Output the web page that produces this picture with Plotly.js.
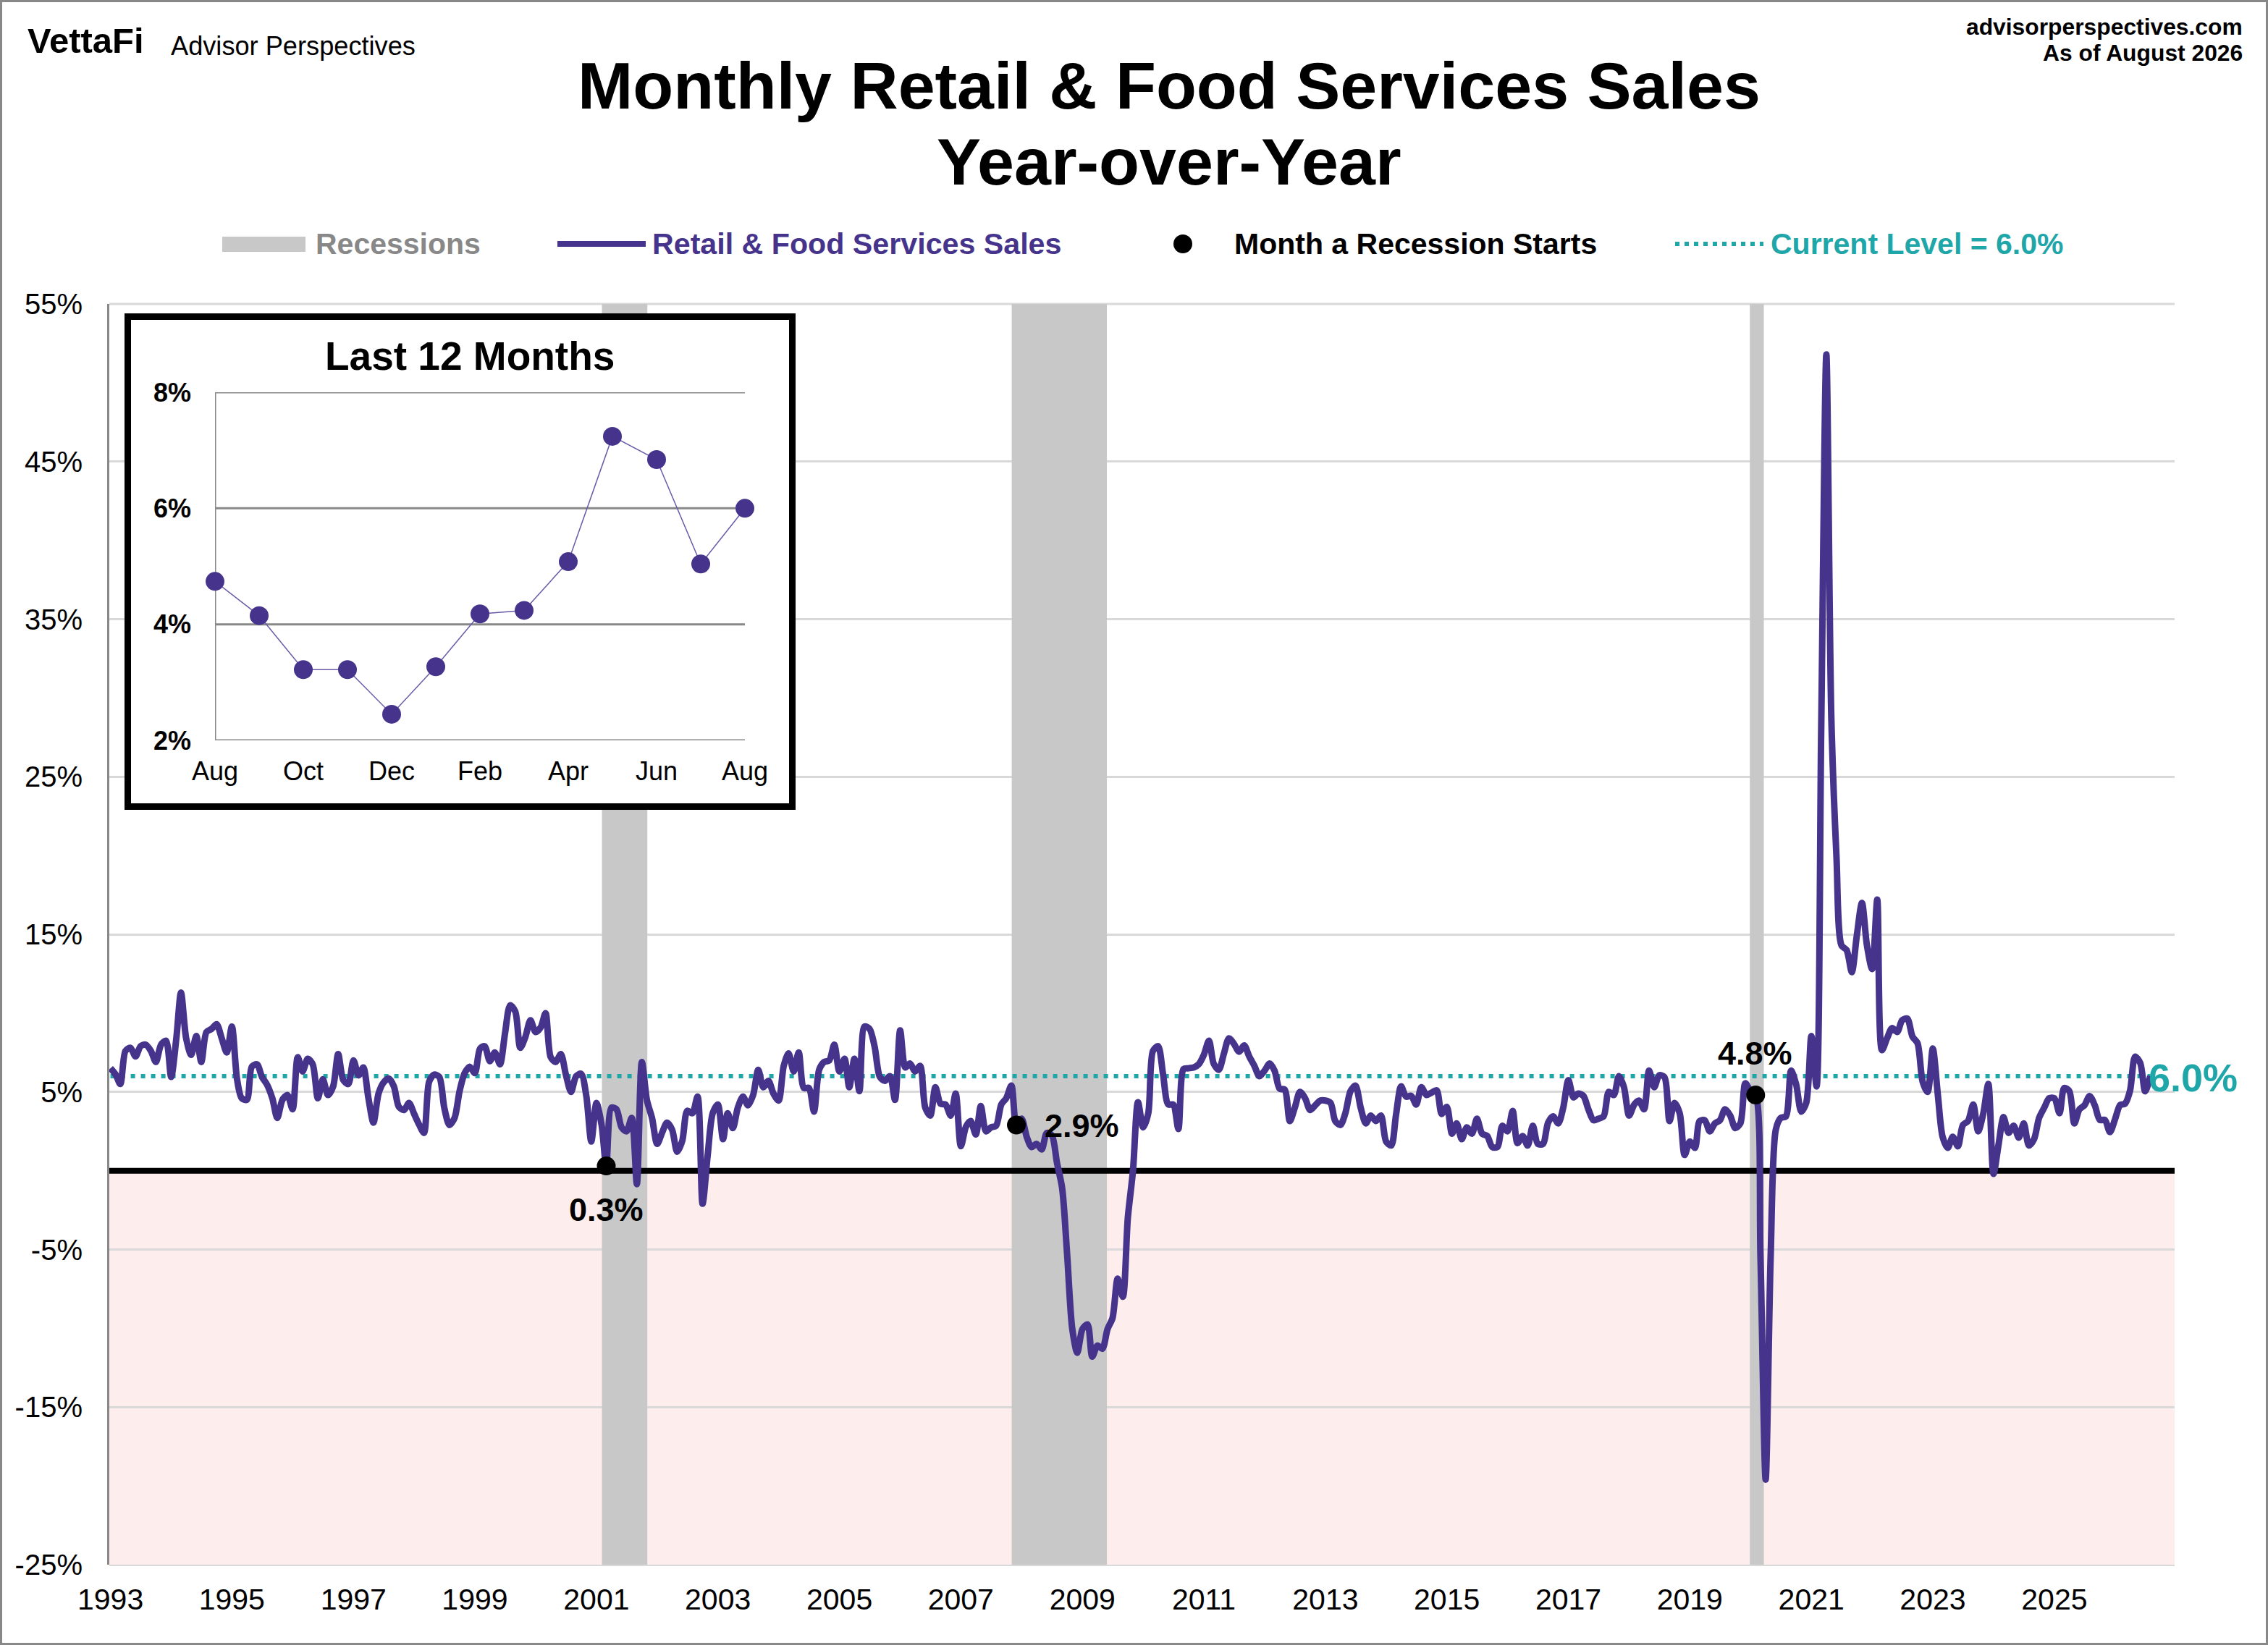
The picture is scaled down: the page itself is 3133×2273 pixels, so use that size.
<!DOCTYPE html>
<html>
<head>
<meta charset="utf-8">
<script src="https://cdn.plot.ly/plotly-3.0.1.min.js"></script>
<style>html,body{margin:0;padding:0;background:#fff;overflow:hidden}#chart{width:3133px;height:2273px}</style>
</head>
<body>
<div id="chart"></div>
<script>
// ---------- data ----------
const yoy1993_2000 = [
  6.5,6.1,5.5,7.6,7.8,7.25,7.9,8.0,7.6,6.9,8,8.25,
  5.95,8.4,11.3,8.4,7.35,8.55,6.9,8.8,9,9.3,8.4,7.5,
  9.15,5.8,4.6,4.5,6.6,6.75,5.95,5.45,4.6,3.35,4.5,4.8,
  3.9,7.2,6.3,7.1,6.75,4.6,5.8,4.8,5.35,7.4,5.75,5.5,
  7,6.05,6.55,4.6,3.05,4.9,5.6,5.85,5.35,4.05,3.85,4.3,
  3.6,2.9,2.4,5.65,6.1,5.95,4,2.9,3.35,5.05,6.2,6.6,
  6.2,7.75,7.9,6.95,7.5,6.75,8.7,10.5,10.1,7.8,8.5,9.55,
  8.8,9.1,10,7.2,6.9,7.4,6.1,5,6,6.15,4.75,1.85];
const yoy2001_2009 = [
  4.3,2.9,0.3,4,3.9,2.75,2.5,3.35,-0.85,6.9,4.45,3.35,
  1.7,2.45,3.05,2.6,1.2,1.9,3.8,3.65,4.7,-2.1,1,3.65,
  4.2,2,3.65,2.7,4,4.7,4.15,4.8,6.4,5.3,5.7,4.9,
  4.45,6.65,7.45,6.3,7.5,5.25,5.25,3.75,6.4,6.9,7,8,
  6.3,7.1,5.3,7.1,5.05,9.15,9,7.85,5.95,5.7,6,4.5,
  8.9,6.55,6.8,6.3,6.65,4,3.5,5.3,4.25,4.2,3.5,4.9,
  1.55,2.8,3.15,2.3,4.1,2.5,2.75,2.85,4.2,4.6,5.4,2.9,
  3.3,2.15,1.5,1.7,1.35,2.4,2.25,0.5,-1.1,-5.3,-10.05,-11.55,
  -10.05,-9.75,-11.8,-11.1,-11.3,-10.05,-9.35,-6.85,-8,-3,0,4.35];
const yoy2010_2019 = [
  2.75,3.65,7.6,7.9,6.1,4.2,4.2,2.65,6.45,6.5,6.55,6.75,
  7.35,8.25,6.8,6.4,7.4,8.4,8.05,7.55,7.95,7.25,6.65,6,
  6.35,6.8,6.35,5.2,5.15,3.15,4,5,4.6,3.85,4.15,4.45,
  4.45,4.3,3.15,2.9,3.65,5.05,5.4,4,3,3.5,3.15,3.5,
  1.85,1.6,3.5,5.35,4.7,4.75,4.2,5.3,4.8,4.95,5.1,3.6,
  4.05,2.35,3,2,2.75,2.35,3.3,2.35,2.2,1.5,1.5,2.85,
  2.5,3.8,1.75,2.2,1.6,2.85,1.7,1.7,3.05,3.45,3,4,
  5.75,4.65,4.9,4.75,3.9,3.2,3.3,3.45,5,4.8,6,5.3,
  3.5,4.2,4.45,3.9,6.35,5.3,6.05,5.95,3.15,4.3,3.65,1,
  1.85,1.45,3.15,3.2,2.5,3,3.2,3.9,3.5,2.7,3,5.55];
const yoy2020_2026 = [
  5.05,4.8,-5.5,-19.6,-5.5,2.6,3.35,3.45,6.35,5.5,3.75,4.3,
  8.55,5.35,28,51.8,28.7,19.9,14.3,14,12.6,14.9,17,14.3,
  12.8,17.2,7.65,8.4,9.05,8.8,9.55,9.65,8.5,8.1,5.65,5,
  7.75,4.75,2.15,1.45,2.15,1.55,2.9,3.15,4.2,2.5,3.65,5.5,
  -0.2,1.7,3.4,2.4,2.85,2.1,3,1.6,2,3.35,4,4.6,
  4.6,3.65,5.25,5.05,3,3.9,4.15,4.74,4.15,3.22,3.22,2.45,
  3.27,4.18,4.24,5.08,7.24,6.84,5.04,6.0];
const yoy = [...yoy1993_2000, ...yoy2001_2009, ...yoy2010_2019, ...yoy2020_2026];
const recessionStart = ['2001-02-03','2007-11-03','2019-12-28'];
const recessionEnd   = ['2001-11-03','2009-05-28','2020-03-21'];
const startDates  = ['2001-03-01','2007-12-01','2020-02-01'];
const startValues = [0.3,2.9,4.8];
const startLabels = ['0.3%','2.9%','4.8%'];
const currentLevel = 6.0;
const axisRange = ['1992-12-25','2026-12-25'];
const yTicks = [-25,-15,-5,5,15,25,35,45,55];
const xTickYears = [1993,1995,1997,1999,2001,2003,2005,2007,2009,2011,2013,2015,2017,2019,2021,2023,2025];
const insetMonths = ['Aug','Sep','Oct','Nov','Dec','Jan','Feb','Mar','Apr','May','Jun','Jul','Aug'];
const insetTicks = [2,4,6,8];

// ---------- derived ----------
const dates = yoy.map((_, i) => {
  const y = 1993 + Math.floor(i / 12), m = i % 12 + 1;
  return y + '-' + String(m).padStart(2, '0') + '-01';
});
const lastDate = dates[dates.length - 1];
const inset = yoy.slice(-13);
const insetX = inset.map((_, i) => i);

// ---------- page geometry ----------
const W = 3133, H = 2273;
const px = x => x / W, py = y => 1 - y / H;
const PURPLE = '#46348c', TEAL = '#1fa6a9', GRID = '#d9d9d9', AXIS = '#888888', REC = '#c8c8c8';
const FONT = '"Liberation Sans", Arial, sans-serif';
const M = {l: 151, r: 3004, t: 420, b: 2162};
const I = {l: 297, r: 1029, t: 542, b: 1023};
const B = {l: 172, r: 1099, t: 433, b: 1119};

// ---------- traces ----------
const traces = [
  {x: axisRange, y: [0,0], mode: 'lines', line: {color: '#000', width: 8}, hoverinfo: 'skip', showlegend: false},
  {x: [dates[0], lastDate], y: [currentLevel, currentLevel], mode: 'lines',
   line: {color: TEAL, width: 6, dash: '6px,8px'}, hoverinfo: 'skip', showlegend: false},
  {x: dates, y: yoy, mode: 'lines', name: 'Retail & Food Services Sales',
   line: {color: PURPLE, width: 9, shape: 'spline', smoothing: 0.8}, showlegend: false},
  {x: startDates, y: startValues, mode: 'markers', name: 'Month a Recession Starts',
   marker: {color: '#000', size: 26}, cliponaxis: false, showlegend: false},
  // inset panel: its own unit-square axes, stacked above the main subplot.
  // The outer half of the stroke is clipped, so the visible border is 9px wide.
  {x: [0,1,1,0,0], y: [0,0,1,1,0], xaxis: 'x2', yaxis: 'y2',
   mode: 'lines', fill: 'toself', fillcolor: '#fff', line: {color: '#000', width: 18},
   cliponaxis: false, hoverinfo: 'skip', showlegend: false},
  {x: insetTicks.flatMap(v => [0,12,null]).concat([0,0]),
   y: insetTicks.flatMap(v => [v,v,null]).concat([2,8]), xaxis: 'x3', yaxis: 'y3',
   mode: 'lines', line: {color: AXIS, width: 3}, cliponaxis: false, hoverinfo: 'skip', showlegend: false},
  {x: insetX, y: inset, xaxis: 'x3', yaxis: 'y3', mode: 'lines+markers', name: 'Last 12 Months',
   line: {color: '#6a5aa8', width: 1.5}, marker: {color: PURPLE, size: 26}, cliponaxis: false, showlegend: false}
];

// ---------- shapes ----------
const shapes = [
  {type: 'line', xref: 'paper', yref: 'paper', x0: px(M.l), x1: px(M.r), y0: py(M.t), y1: py(M.t), line: {color: GRID, width: 3}, layer: 'below'},
  {type: 'line', xref: 'paper', yref: 'paper', x0: px(M.l), x1: px(M.r), y0: py(M.b), y1: py(M.b), line: {color: GRID, width: 4}, layer: 'below'},
  {type: 'rect', xref: 'x', yref: 'y', x0: axisRange[0], x1: axisRange[1], y0: -25, y1: 0,
   fillcolor: '#fdeded', line: {width: 0}, layer: 'below'},
  ...recessionStart.map((s, i) => ({type: 'rect', xref: 'x', yref: 'y', x0: s, x1: recessionEnd[i], y0: -25, y1: 55,
   fillcolor: REC, line: {width: 0}, layer: 'between'})),
  {type: 'rect', xref: 'paper', yref: 'paper', x0: 0, x1: 1, y0: 0, y1: 1, line: {color: AXIS, width: 6}, layer: 'above'},
  {type: 'rect', xref: 'paper', yref: 'paper', x0: px(307), x1: px(422), y0: py(327), y1: py(348), fillcolor: REC, line: {width: 0}, layer: 'above'},
  {type: 'line', xref: 'paper', yref: 'paper', x0: px(770), x1: px(892), y0: py(337), y1: py(337), line: {color: PURPLE, width: 8}, layer: 'above'},
  {type: 'circle', xref: 'paper', yref: 'paper', x0: px(1621), x1: px(1647), y0: py(324), y1: py(350), fillcolor: '#000', line: {width: 0}, layer: 'above'},
  {type: 'line', xref: 'paper', yref: 'paper', x0: px(2314), x1: px(2436), y0: py(337), y1: py(337), line: {color: TEAL, width: 6, dash: '6px,7px'}, layer: 'above'}
];

// ---------- text ----------
const note = (text, x, y, size, opts = {}) => Object.assign({
  text, x: px(x), y: py(y), xref: 'paper', yref: 'paper', showarrow: false,
  xanchor: 'center', yanchor: 'middle', borderpad: 0,
  font: {family: FONT, size, color: opts.color || '#000'}
}, opts.extra || {});
const bold = t => '<b>' + t + '</b>';
const annotations = [
  note(bold('Monthly Retail &amp; Food Services Sales'), 1615, 118, 91.6),
  note(bold('Year-over-Year'), 1615, 223, 91.6),
  note(bold('VettaFi'), 119, 56, 49),
  note('Advisor Perspectives', 405, 63, 36.2),
  note(bold('advisorperspectives.com'), 3099, 37, 31.8, {extra: {xanchor: 'right'}}),
  note(bold('As of August 2026'), 3099, 73, 31.8, {extra: {xanchor: 'right'}}),
  note(bold('Recessions'), 435, 337, 41, {color: AXIS, extra: {xanchor: 'left'}}),
  note(bold('Retail &amp; Food Services Sales'), 900, 337, 41.2, {color: PURPLE, extra: {xanchor: 'left'}}),
  note(bold('Month a Recession Starts'), 1704, 337, 41, {extra: {xanchor: 'left'}}),
  note(bold('Current Level = 6.0%'), 2445, 337, 41, {color: TEAL, extra: {xanchor: 'left'}}),
  note(bold('Last 12 Months'), 649, 492, 55),
  ...startLabels.map((t, i) => ({
    text: bold(t), x: startDates[i], y: startValues[i], xref: 'x', yref: 'y', showarrow: false,
    xshift: [0, 90, -1][i], yshift: [-60, -1, 58][i],
    font: {family: FONT, size: 45, color: '#000'}
  })),
  {text: bold('6.0%'), x: lastDate, y: currentLevel, xref: 'x', yref: 'y', showarrow: false,
   xshift: 59, yshift: -2, font: {family: FONT, size: 54, color: TEAL}}
];

// ---------- layout ----------
const layout = {
  width: W, height: H, margin: {l: 0, r: 0, t: 0, b: 0, pad: 0},
  paper_bgcolor: '#fff', plot_bgcolor: 'rgba(0,0,0,0)', showlegend: false,
  font: {family: FONT, color: '#000'},
  xaxis: {
    domain: [px(M.l), px(M.r)], type: 'date', range: axisRange,
    tickvals: xTickYears.map(y => y + '-01-01'), ticktext: xTickYears.map(String),
    tickfont: {family: FONT, size: 41}, ticks: '', showgrid: false, zeroline: false, showline: false,
    ticklabelstandoff: 20, anchor: 'y', fixedrange: true
  },
  yaxis: {
    domain: [py(M.b), py(M.t)], range: [-25, 55], tickvals: yTicks, ticktext: yTicks.map(v => v + '%'),
    tickfont: {family: FONT, size: 40}, ticks: '', showgrid: true, gridcolor: GRID, gridwidth: 3,
    zeroline: false, showline: true, linecolor: AXIS, linewidth: 3, ticklabelstandoff: 26, anchor: 'x', fixedrange: true
  },
  xaxis2: {domain: [px(B.l), px(B.r)], range: [0, 1], anchor: 'y2', visible: false, fixedrange: true},
  yaxis2: {domain: [py(B.b), py(B.t)], range: [0, 1], anchor: 'x2', visible: false, fixedrange: true},
  xaxis3: {
    domain: [px(I.l), px(I.r)], range: [0, 12], anchor: 'y3', showgrid: false, zeroline: false, showline: false,
    tickvals: insetX.filter(i => i % 2 === 0), ticktext: insetMonths.filter((_, i) => i % 2 === 0),
    tickfont: {family: FONT, size: 36}, ticks: '', ticklabelstandoff: 18, fixedrange: true
  },
  yaxis3: {
    domain: [py(I.b), py(I.t)], range: [2, 8], anchor: 'x3', showgrid: false, zeroline: false, showline: false,
    tickvals: insetTicks, ticktext: insetTicks.map(v => '<b>' + v + '%</b>'),
    tickfont: {family: FONT, size: 36}, ticks: '', ticklabelstandoff: 32, fixedrange: true
  },
  shapes, annotations
};
Plotly.newPlot('chart', traces, layout, {displayModeBar: false, responsive: false});
</script>
</body>
</html>
